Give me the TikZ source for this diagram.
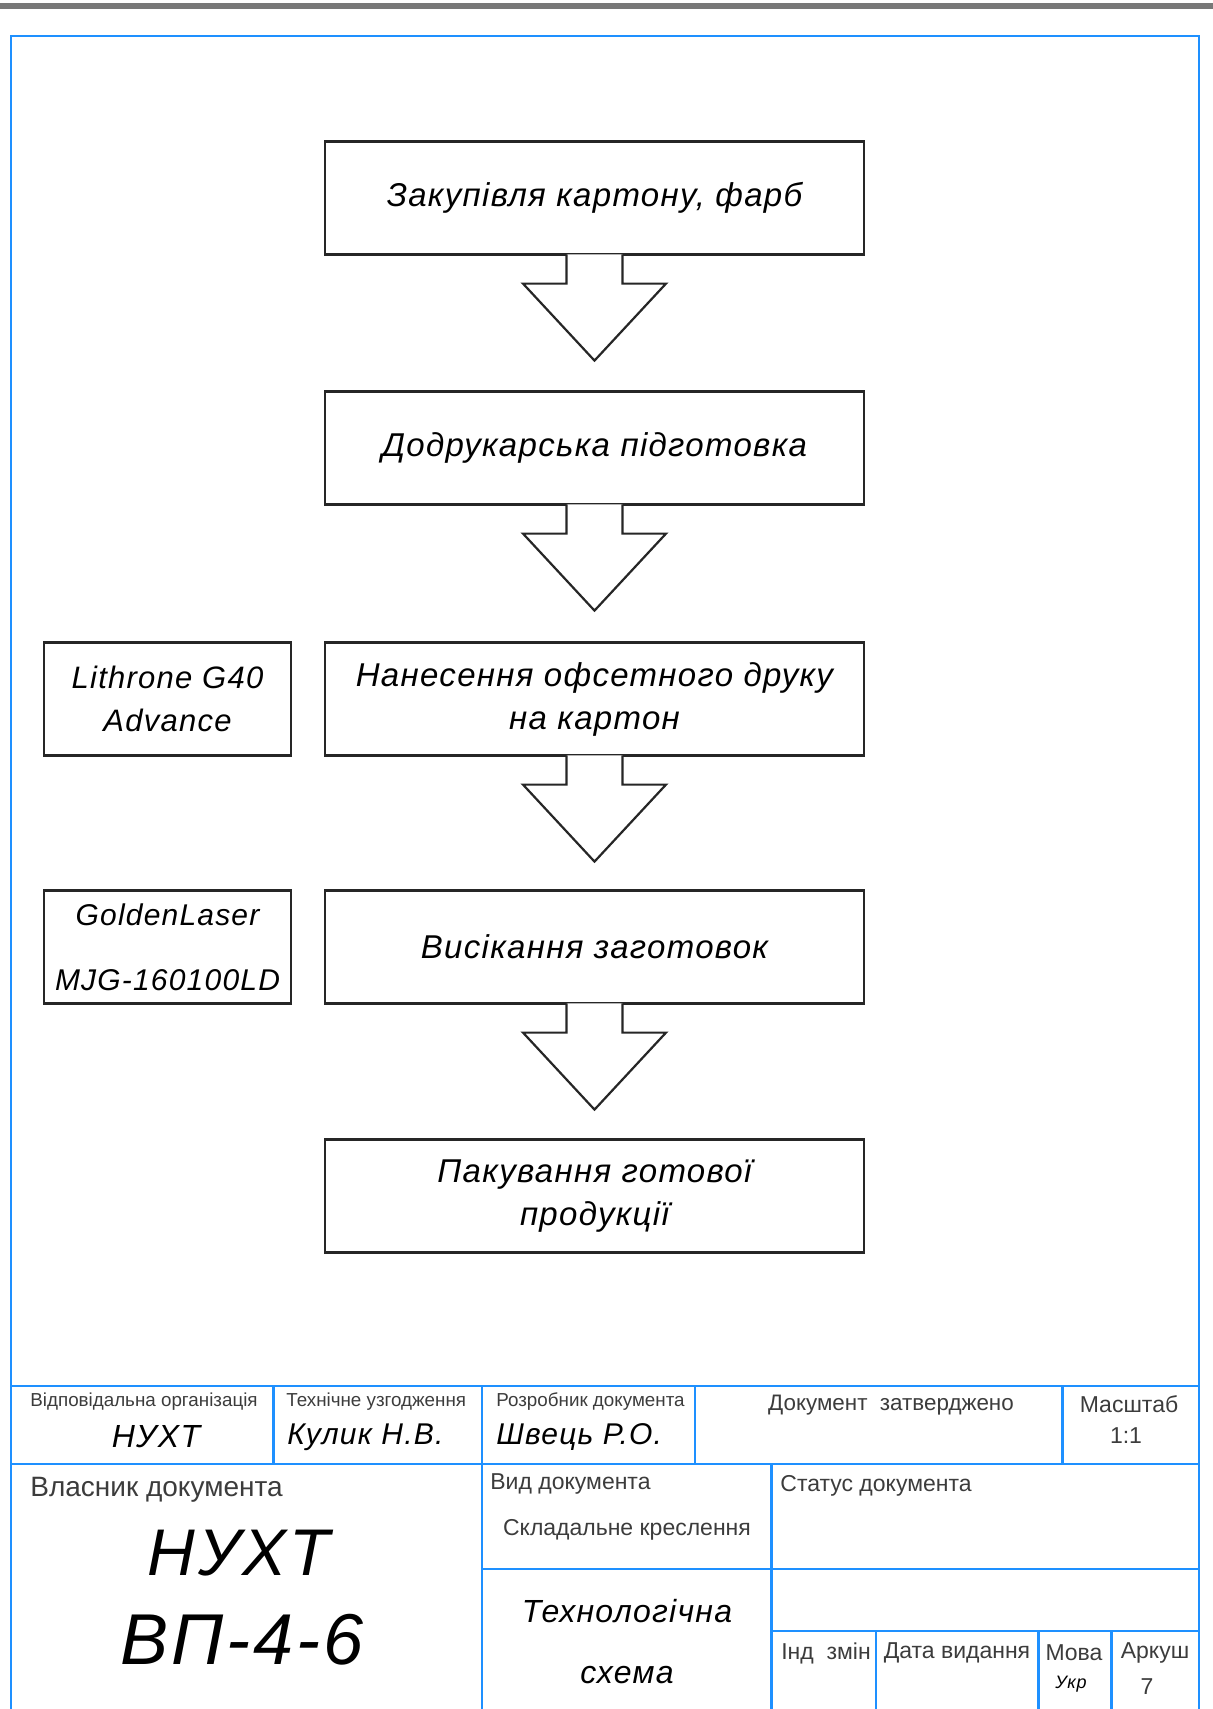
\documentclass[tikz,border=0pt]{standalone}
\usepackage{fontspec}
\usepackage{xcolor}
\usepackage{tikz}
\setmainfont{Liberation Sans}
\newfontfamily\gost{Liberation Sans}[LetterSpace=4]
\definecolor{frameblue}{RGB}{30,144,255}
\definecolor{rulegray}{RGB}{120,120,120}
\definecolor{labelgray}{RGB}{60,60,60}

\begin{document}
\begin{tikzpicture}[
    x=0.5pt, y=-0.5pt,
    stage/.style={rectangle, draw=black!85, line width=1.1pt,
                  minimum width=269.5pt, minimum height=56.5pt, inner sep=0pt,
                  font=\gost\itshape\fontsize{16.5}{21.5}\selectfont, align=center},
    machine/.style={stage, minimum width=123.5pt,
                  font=\gost\itshape\fontsize{15.5}{21.5}\selectfont},
    blockarrow/.style={draw=black!85, line width=1.1pt, fill=white, line join=miter},
    frameline/.style={draw=frameblue, line width=1.3pt},
    smalllbl/.style={font=\fontsize{9.4}{11}\selectfont, text=labelgray, inner sep=0pt},
    celllbl/.style={font=\fontsize{11.5}{13}\selectfont, text=labelgray, inner sep=0pt},
    persontext/.style={font=\gost\itshape\fontsize{15}{18}\selectfont, inner sep=0pt},
    bigtext/.style={font=\gost\itshape\fontsize{36}{40}\selectfont, inner sep=0pt}
]
\useasboundingbox (0,0) rectangle (1213,1709);

% top rule
\fill[rulegray] (0,3) rectangle (1213,9);

% Process stages
\node[stage] (s1) at (594.5,198) {Закупівля картону, фарб};
\node[stage] (s2) at (594.5,448) {Додрукарська підготовка};
\node[stage] (s3) at (594.5,699) {Нанесення офсетного друку\\на картон};
\node[stage] (s4) at (594.5,947) {Висікання заготовок};
\node[stage] (s5) at (594.5,1196) {Пакування готової\\продукції};

% Equipment
\node[machine] (m3) at (167.5,699) {Lithrone G40\\Advance};
\node[machine, font=\gost\itshape\fontsize{15}{21.5}\selectfont] (m4) at (167.5,947) {GoldenLaser\\[11pt]MJG-160100LD};

% Arrows between stages
\foreach \a/\b in {s1/s2, s2/s3, s3/s4, s4/s5}
  \draw[blockarrow] (\a.south) ++(-28,-1.2) -- ++(0,29.2) -- ++(-43.5,0)
        -- ++(71.5,77) -- ++(71.5,-77) -- ++(-43.5,0) -- ++(0,-29.2);

% Frame
\draw[frameline] (11,1712) -- (11,36) -- (1199,36) -- (1199,1712);

% Title block lines
\draw[frameline] (11,1386) -- (1199,1386);
\draw[frameline] (11,1464) -- (1199,1464);
\draw[frameline] (273.5,1386) -- (273.5,1464);
\draw[frameline] (695,1386) -- (695,1464);
\draw[frameline] (1062.5,1386) -- (1062.5,1464);
\draw[frameline] (482,1386) -- (482,1712);
\draw[frameline] (771.5,1464) -- (771.5,1712);
\draw[frameline] (482,1569) -- (1199,1569);
\draw[frameline] (771.5,1631) -- (1199,1631);
\draw[frameline] (876,1631) -- (876,1712);
\draw[frameline] (1038.5,1631) -- (1038.5,1712);
\draw[frameline] (1111.5,1631) -- (1111.5,1712);

% Title block texts, row 1
\node[smalllbl, anchor=west] (orglbl) at (30,1402) {Відповідальна організація};
\node[persontext, font=\gost\itshape\fontsize{16}{18}\selectfont] (org) at (156,1437) {НУХТ};
\node[smalllbl, anchor=west] (techlbl) at (286,1402) {Технічне узгодження};
\node[persontext, anchor=west] (tech) at (287,1437) {Кулик Н.В.};
\node[smalllbl, anchor=west] (devlbl) at (496,1402) {Розробник документа};
\node[persontext, anchor=west] (dev) at (496,1437) {Швець Р.О.};
\node[celllbl, font=\fontsize{11.2}{13}\selectfont] (appr) at (891,1405) {Документ\ \ затверджено};
\node[celllbl] (scalelbl) at (1129,1404) {Масштаб};
\node[celllbl] (scale) at (1126,1436) {1:1};

% Title block texts, row 2
\node[celllbl, anchor=west, font=\fontsize{14}{16}\selectfont] (ownlbl) at (30,1490) {Власник документа};
\node[bigtext, font=\gost\itshape\fontsize{33}{40}\selectfont] (own) at (239,1553) {НУХТ};
\node[bigtext] (code) at (242,1640) {ВП-4-6};
\node[celllbl, anchor=west] (kindlbl) at (490,1484) {Вид документа};
\node[celllbl] (kind) at (627,1530) {Складальне креслення};
\node[celllbl, anchor=west] (statlbl) at (780,1486) {Статус документа};
\node[persontext, font=\gost\itshape\fontsize{16}{18}\selectfont] (title1) at (627,1611) {Технологічна};
\node[persontext, font=\gost\itshape\fontsize{16}{18}\selectfont] (title2) at (627,1675) {схема};
\node[celllbl] (chglbl) at (826,1653) {Інд\ \ змін};
\node[celllbl] (datelbl) at (957,1653) {Дата видання};
\node[celllbl] (langlbl) at (1074,1653) {Мова};
\node[persontext, font=\gost\itshape\fontsize{9}{10}\selectfont] (lang) at (1071,1684) {Укр};
\node[celllbl] (sheetlbl) at (1155,1653) {Аркуш};
\node[celllbl] (sheet) at (1147,1687) {7};

\end{tikzpicture}
\end{document}
